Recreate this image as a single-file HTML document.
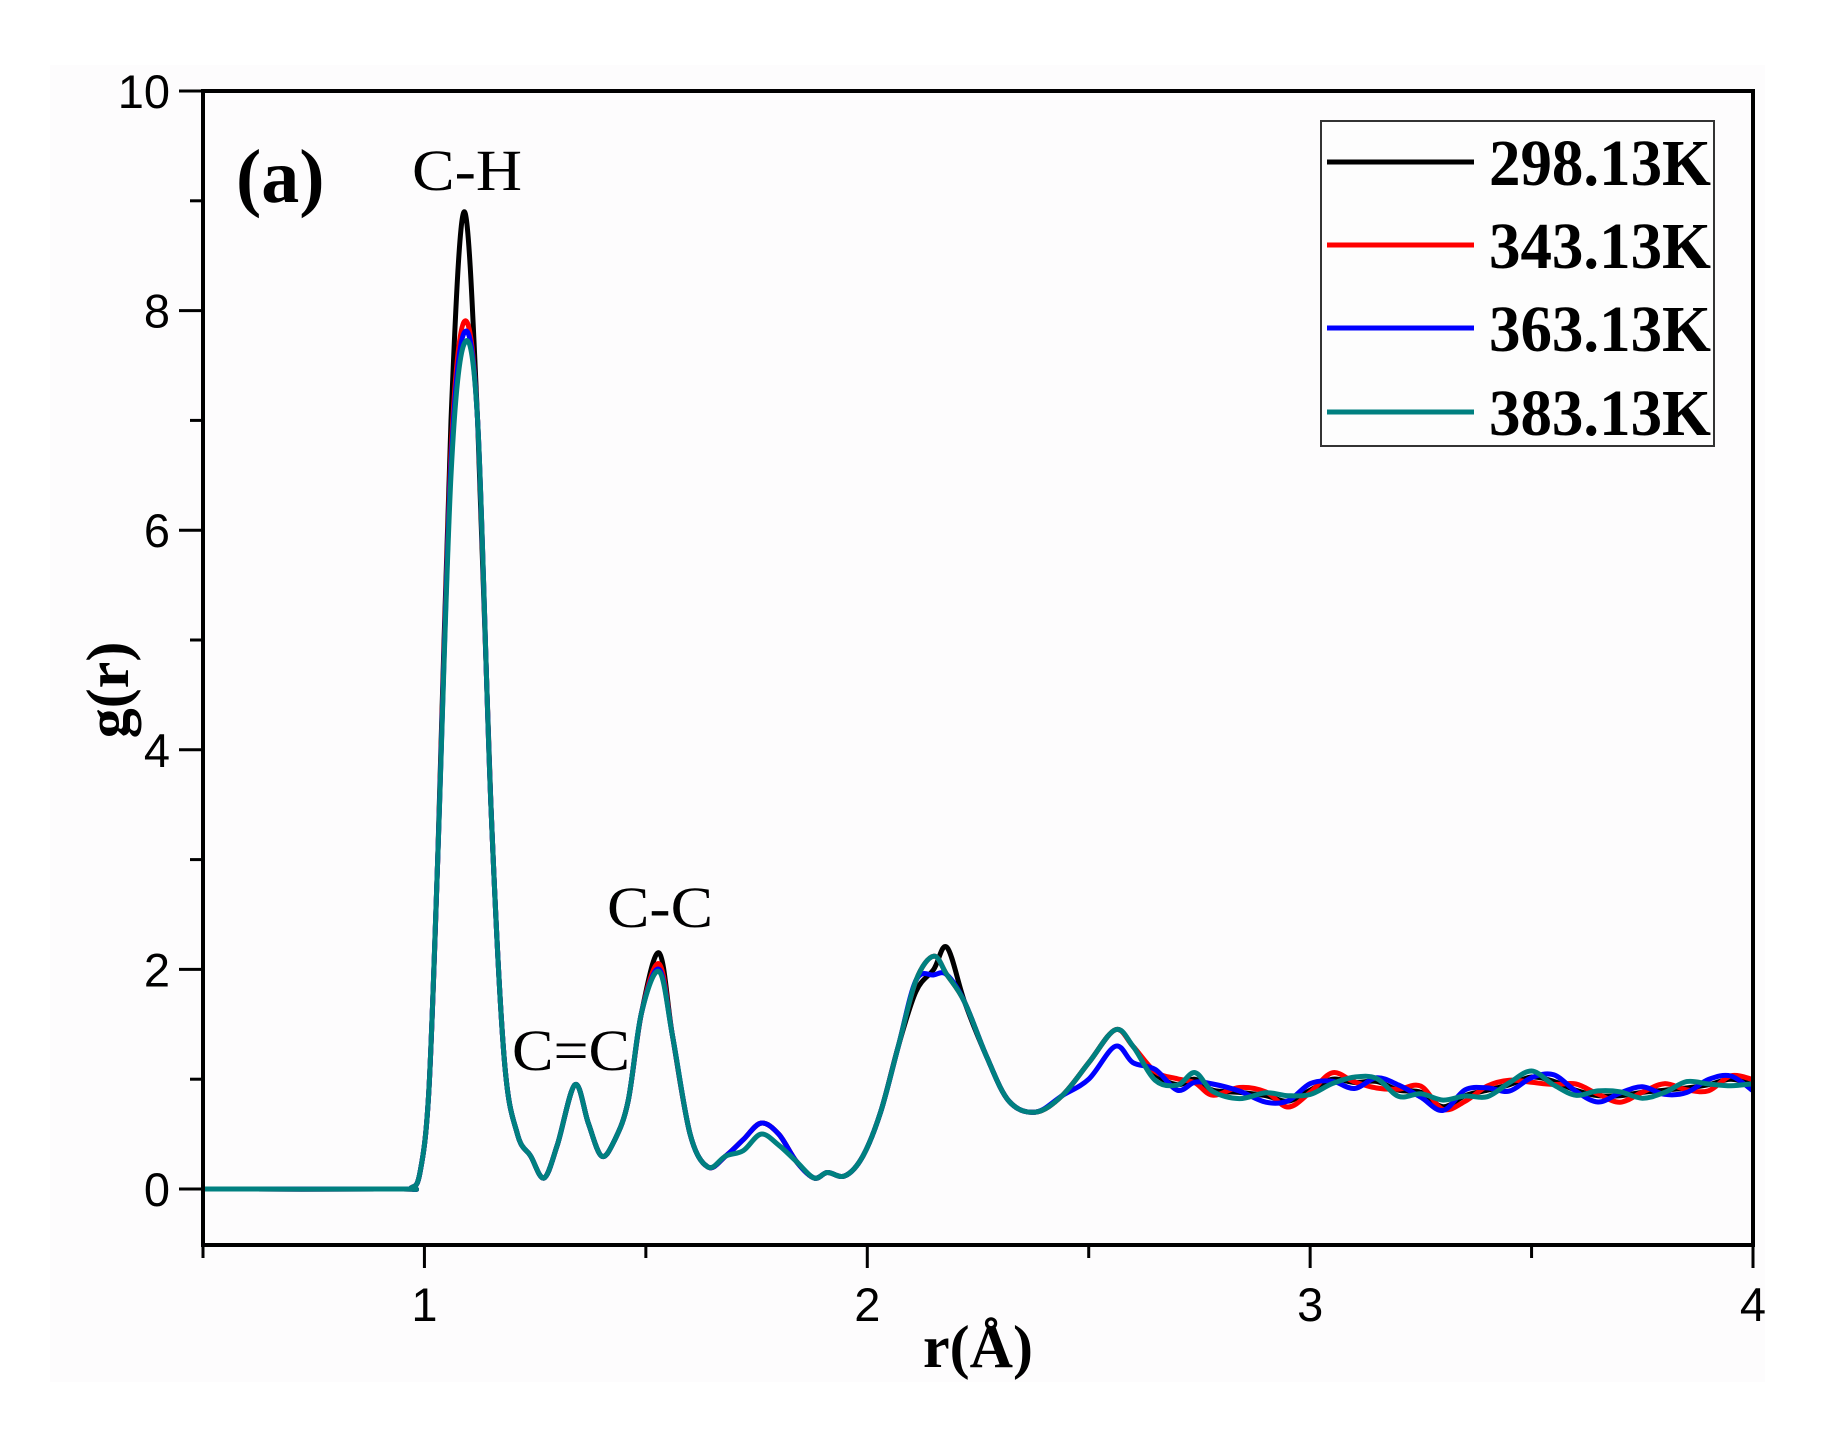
<!DOCTYPE html>
<html><head><meta charset="utf-8"><style>
html,body{margin:0;padding:0;background:#fff;}
svg{display:block;}
</style></head><body>
<svg id="s" width="1840" height="1440" viewBox="0 0 1840 1440" xmlns="http://www.w3.org/2000/svg">
<rect x="0" y="0" width="1840" height="1440" fill="#fff"/>
<rect x="50" y="65" width="1715" height="1317" fill="#fdfcfd"/>
<g id="curves"></g>
<g stroke="#000" fill="none">
<rect x="203" y="91" width="1550" height="1154" stroke-width="4"/>
</g>
<g id="ticks" stroke="#000" stroke-width="3"></g>
<g font-family="'Liberation Sans',sans-serif" font-size="47" fill="#000" id="labels"></g>
<text x="236" y="202" font-family="'Liberation Serif',serif" font-weight="bold" font-size="76">(a)</text>
<text x="412" y="190" font-family="'Liberation Serif',serif" font-size="58" textLength="110" lengthAdjust="spacingAndGlyphs">C-H</text>
<text x="512" y="1070" font-family="'Liberation Serif',serif" font-size="58" textLength="118" lengthAdjust="spacingAndGlyphs">C=C</text>
<text x="607" y="927" font-family="'Liberation Serif',serif" font-size="58" textLength="106" lengthAdjust="spacingAndGlyphs">C-C</text>
<text x="978" y="1367" text-anchor="middle" font-family="'Liberation Serif',serif" font-weight="bold" font-size="60">r(Å)</text>
<text transform="translate(128,690) rotate(-90)" text-anchor="middle" font-family="'Liberation Serif',serif" font-weight="bold" font-size="60">g(r)</text>
<rect x="1321" y="121" width="393" height="325" fill="#fff" fill-opacity="0.3" stroke="#333" stroke-width="2"/>
<g stroke-width="5">
<line x1="1327" y1="162" x2="1474" y2="162" stroke="#000"/>
<line x1="1327" y1="245" x2="1474" y2="245" stroke="#f00"/>
<line x1="1327" y1="328" x2="1474" y2="328" stroke="#00f"/>
<line x1="1327" y1="412" x2="1474" y2="412" stroke="#008080"/>
</g>
<g font-family="'Liberation Serif',serif" font-weight="bold" font-size="66" fill="#000">
<text x="1489" y="185" textLength="222" lengthAdjust="spacingAndGlyphs">298.13K</text>
<text x="1489" y="268" textLength="222" lengthAdjust="spacingAndGlyphs">343.13K</text>
<text x="1489" y="351" textLength="222" lengthAdjust="spacingAndGlyphs">363.13K</text>
<text x="1489" y="435" textLength="222" lengthAdjust="spacingAndGlyphs">383.13K</text>
</g>
</svg>
<script>
var NS="http://www.w3.org/2000/svg";
function X(r){return 203+(r-0.5)*1550/3.5;}
function Y(g){return 1189-g*109.8;}
var tk=document.getElementById('ticks'),lb=document.getElementById('labels');
function ln(x1,y1,x2,y2){var l=document.createElementNS(NS,'line');l.setAttribute('x1',x1);l.setAttribute('y1',y1);l.setAttribute('x2',x2);l.setAttribute('y2',y2);tk.appendChild(l);}
function tx(x,y,s,a){var t=document.createElementNS(NS,'text');t.setAttribute('x',x);t.setAttribute('y',y);t.setAttribute('text-anchor',a);t.textContent=s;lb.appendChild(t);}
for(var g=0;g<=10;g++){var y=Y(g);ln(g%2==0?179:190,y,203,y);if(g%2==0)tx(170,y+17,String(g),'end');}
for(var r=0.5;r<=4.001;r+=0.5){var x=X(r);var maj=Math.abs(r-Math.round(r))<0.01;ln(x,1245,x,maj?1268:1258);if(maj&&r>=1)tx(x,1321,String(Math.round(r)),'middle');}
var base=[[0.5,0],[0.94,0],[0.97,0.01],[0.99,0.15],[1.01,0.9],[1.03,3],[1.06,7],[1.09,8.9],[1.12,7],[1.15,3.5],[1.18,1.2],[1.21,0.5],[1.24,0.3],[1.27,0.1],[1.3,0.4],[1.34,0.95],[1.37,0.6],[1.40,0.3],[1.43,0.45],[1.46,0.8],[1.49,1.6],[1.53,2.15],[1.56,1.4],[1.6,0.5],[1.64,0.2],[1.68,0.3],[1.72,0.45],[1.76,0.6],[1.8,0.5],[1.84,0.25],[1.88,0.1],[1.91,0.15],[1.95,0.12],[1.99,0.3],[2.03,0.7],[2.07,1.3],[2.11,1.8],[2.15,2.0],[2.18,2.2],[2.22,1.7],[2.27,1.2],[2.32,0.8],[2.38,0.7],[2.44,0.85],[2.5,1.15],[2.56,1.45],[2.6,1.3],[2.65,1.05],[2.7,0.95],[2.74,1.0],[2.78,0.9],[2.84,0.88],[2.9,0.85],[2.95,0.8],[3.0,0.9],[3.05,1.0],[3.1,0.97],[3.15,0.98],[3.2,0.9],[3.25,0.88],[3.3,0.75],[3.35,0.85],[3.4,0.9],[3.45,0.95],[3.5,1.02],[3.55,0.98],[3.6,0.9],[3.65,0.85],[3.7,0.85],[3.75,0.88],[3.8,0.9],[3.85,0.92],[3.9,0.95],[3.95,1.0],[4.0,0.95]];
function variant(k){return base.map(function(p,i){var r=p[0],g=p[1];
 if(k>0){
  if(Math.abs(r-1.09)<0.001)g=[8.9,7.9,7.8,7.7][k];
  if(Math.abs(r-1.06)<0.001)g=6.8-0.1*k;
  if(Math.abs(r-1.53)<0.001)g=[2.15,2.05,2.0,1.98][k];
  if(r>=2.1&&r<=2.2){g={2.11:1.9,2.15:2.12,2.18:1.95}[r]||g; if(k==2&&r==2.15)g=1.95;}
  if(k==3&&r>=1.72&&r<=1.8)g=g-0.1;
  if(k==2&&r>=2.5&&r<=2.6)g=g-0.15;
  if(r>2.6)g=g+0.06*Math.sin(i*1.7+k*2.1);
 }
 return [r,g];});}
function path(pts){var d='M'+X(pts[0][0]).toFixed(1)+','+Y(pts[0][1]).toFixed(1);
 for(var i=0;i<pts.length-1;i++){var p0=pts[Math.max(0,i-1)],p1=pts[i],p2=pts[i+1],p3=pts[Math.min(pts.length-1,i+2)];
  var c1x=X(p1[0])+(X(p2[0])-X(p0[0]))/6,c1y=Y(p1[1])+(Y(p2[1])-Y(p0[1]))/6;
  var c2x=X(p2[0])-(X(p3[0])-X(p1[0]))/6,c2y=Y(p2[1])-(Y(p3[1])-Y(p1[1]))/6;
  d+=' C'+c1x.toFixed(1)+','+c1y.toFixed(1)+' '+c2x.toFixed(1)+','+c2y.toFixed(1)+' '+X(p2[0]).toFixed(1)+','+Y(p2[1]).toFixed(1);}
 return d;}
var cols=['#000','#f00','#00f','#008080'],cg=document.getElementById('curves');
for(var k=0;k<4;k++){var p=document.createElementNS(NS,'path');p.setAttribute('d',path(variant(k)));p.setAttribute('fill','none');p.setAttribute('stroke',cols[k]);p.setAttribute('stroke-width','5');p.setAttribute('stroke-linejoin','round');cg.appendChild(p);}
</script>
</body></html>
